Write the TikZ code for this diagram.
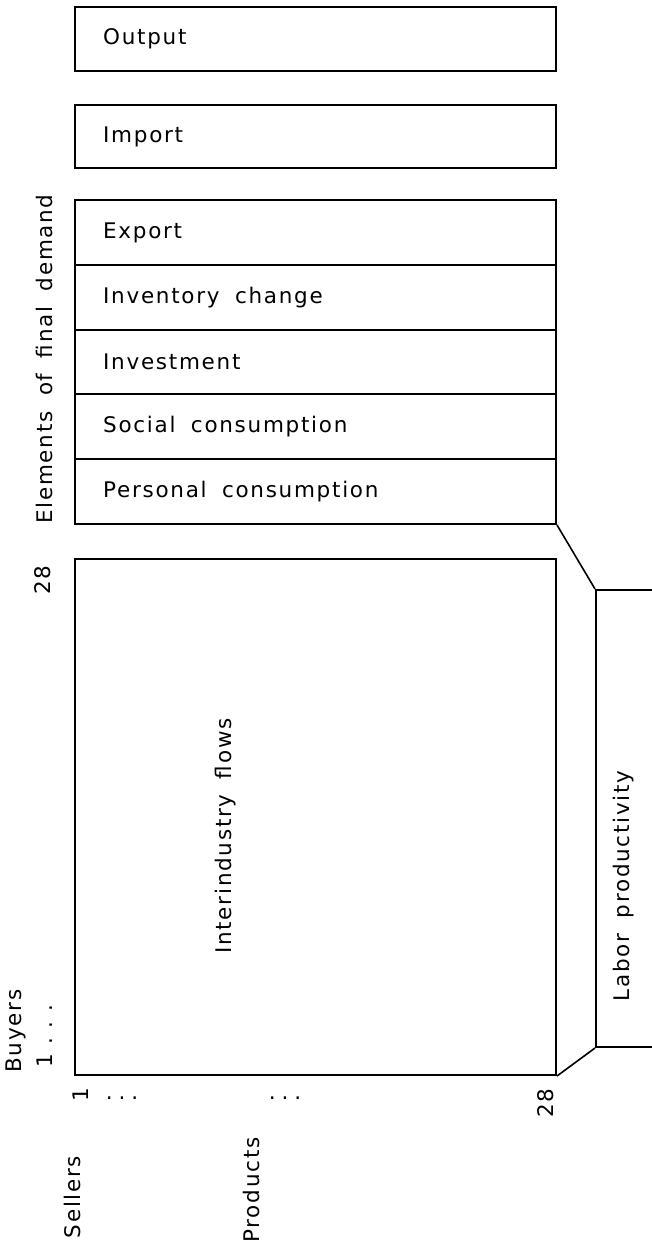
\documentclass[tikz,border=0pt]{standalone}
\usepackage{fontspec}
\newfontfamily\lettering[LetterSpace=8,WordSpace=1.8]{DejaVu Sans}
\begin{document}
\begin{tikzpicture}[x=1pt,y=-1pt,
  every node/.style={font=\lettering\fontsize{21.5pt}{26pt}\selectfont},
  frame/.style={draw, line width=2pt, anchor=north west, inner sep=0pt, minimum width=481pt},
  rowtext/.style={anchor=west, inner sep=0pt, xshift=29pt},
  vlabel/.style={rotate=90, inner sep=0pt},
  link/.style={line width=1.6pt}]
\useasboundingbox (0,0) rectangle (652,1249);
\clip (0,0) rectangle (652,1249);

% single boxes at the top
\node[frame, minimum height=64pt] (out) at (74,6) {};
\node[rowtext] (outtxt) at (out.west) {Output};
\node[frame, minimum height=63pt] (imp) at (74,104) {};
\node[rowtext] (imptxt) at (imp.west) {Import};

% stacked elements of final demand
\node[frame, minimum height=65pt] (exp) at (74,199) {};
\node[rowtext] (exptxt) at (exp.west) {Export};
\node[frame, minimum height=65pt] (inv) at (74,264) {};
\node[rowtext] (invtxt) at (inv.west) {Inventory change};
\node[frame, minimum height=64pt] (invest) at (74,329) {};
\node[rowtext] (investtxt) at (invest.west) {Investment};
\node[frame, minimum height=65pt] (soc) at (74,393) {};
\node[rowtext] (soctxt) at (soc.west) {Social consumption};
\node[frame, minimum height=65pt] (pers) at (74,458) {};
\node[rowtext] (perstxt) at (pers.west) {Personal consumption};
\node[vlabel] (elem) at (44,359) {Elements of final demand};

% interindustry flow matrix
\node[frame, minimum height=516pt] (flows) at (74,558) {};
\node[vlabel] (flowtxt) at (226,836) {Interindustry flows};

% labour productivity block, continuing past the right edge
\node[frame, minimum width=120pt, minimum height=457pt] (labor) at (595,589) {};
\node[vlabel] (labtxt) at (624,886) {Labor productivity};
\draw[link] (pers.south east) -- (labor.north west);
\draw[link] (flows.south east) -- (labor.south west);

% axis labels
\node[vlabel] (top28) at (43,580) {28};
\node[vlabel] (buyers) at (16,1031) {Buyers};
\node[vlabel] (buy1) at (45,1036) {1\kern9pt.\kern10pt.\kern10pt.};
\node[vlabel] (sell1) at (81,1095) {1};
\node[anchor=base, inner sep=0pt] (dotsa) at (122,1099) {.\kern6pt.\kern6pt.};
\node[anchor=base, inner sep=0pt] (dotsb) at (285,1099) {.\kern6pt.\kern6pt.};
\node[vlabel] (sell28) at (546,1103) {28};
\node[vlabel] (sellers) at (72,1197) {Sellers};
\node[vlabel] (products) at (251,1190) {Products};
\end{tikzpicture}
\end{document}
